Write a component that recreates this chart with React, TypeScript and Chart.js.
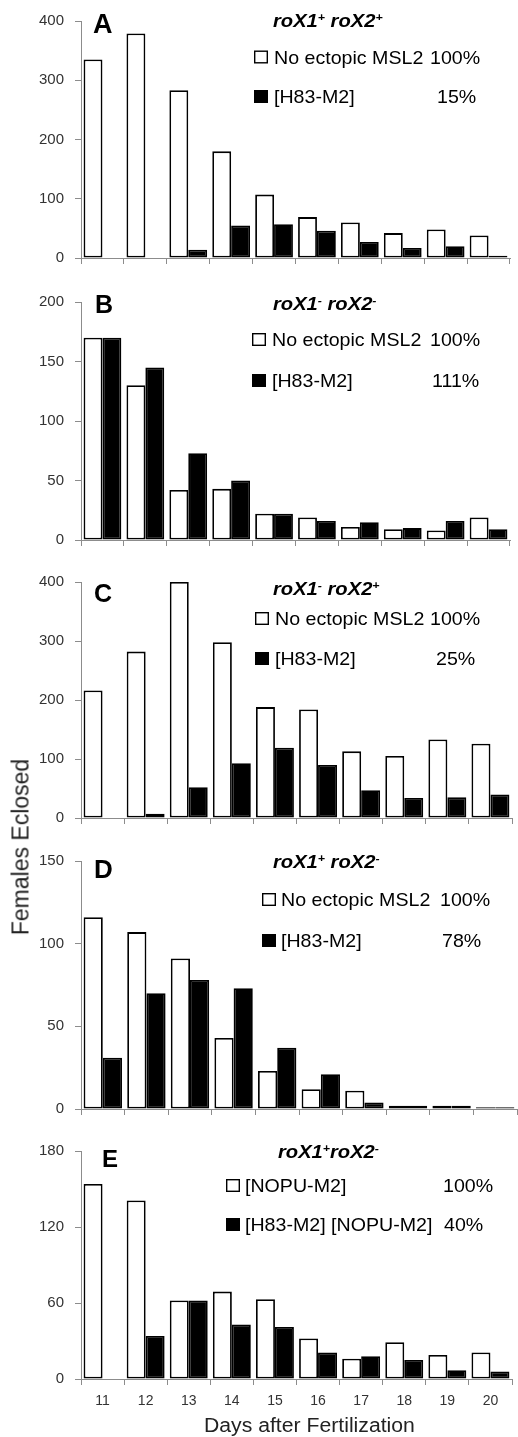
import React, { useEffect, useRef } from 'react';
import { Chart, registerables } from 'chart.js';

Chart.register(...registerables);

// ---------- data ----------
const DAYS = ['11', '12', '13', '14', '15', '16', '17', '18', '19', '20'];

const A_CONTROL = [335, 379, 283, 180, 107, 69, 60, 42, 48, 38];
const A_H83 = [0, 0, 14, 55, 57, 46, 27, 17, 20, 4];
const B_CONTROL = [170, 130, 42, 43, 22, 19, 11, 9, 8, 19];
const B_H83 = [170, 145, 73, 50, 22, 16, 15, 10, 16, 9];
const C_CONTROL = [216, 282, 400, 298, 188, 184, 113, 105, 133, 126];
const C_H83 = [0, 7, 52, 93, 119, 90, 47, 34, 35, 40];
const D_CONTROL = [116, 107, 91, 43, 23, 12, 11, 2, 2, 1];
const D_H83 = [31, 70, 78, 73, 37, 21, 4, 2, 2, 1];
const E_NOPU = [154, 141, 62, 69, 63, 32, 16, 29, 19, 21];
const E_H83_NOPU = [0, 34, 62, 43, 41, 21, 18, 15, 7, 6];

const SERIES = [
  [A_CONTROL, A_H83],
  [B_CONTROL, B_H83],
  [C_CONTROL, C_H83],
  [D_CONTROL, D_H83],
  [E_NOPU, E_H83_NOPU],
];

const Y_MAX = [400, 200, 400, 150, 180];
const Y_STEP = [100, 50, 100, 50, 60];
const LETTERS = ['A', 'B', 'C', 'D', 'E'];
const GENOTYPES: [string, boolean][][] = [
  [['roX1', false], ['+', true], [' roX2', false], ['+', true]],
  [['roX1', false], ['-', true], [' roX2', false], ['-', true]],
  [['roX1', false], ['-', true], [' roX2', false], ['+', true]],
  [['roX1', false], ['+', true], [' roX2', false], ['-', true]],
  [['roX1', false], ['+', true], ['roX2', false], ['-', true]],
];
const LEGEND_LABELS = [
  ['No ectopic MSL2', '[H83-M2]'],
  ['No ectopic MSL2', '[H83-M2]'],
  ['No ectopic MSL2', '[H83-M2]'],
  ['No ectopic MSL2', '[H83-M2]'],
  ['[NOPU-M2]', '[H83-M2] [NOPU-M2]'],
];
const PERCENTS = [
  ['100%', '15%'],
  ['100%', '111%'],
  ['100%', '25%'],
  ['100%', '78%'],
  ['100%', '40%'],
];
const X_TITLE = 'Days after Fertilization';
const Y_TITLE = 'Females Eclosed';

// ---------- layout / style ----------
const FONT = '"Liberation Sans", Arial, Helvetica, sans-serif';
const AXIS = '#8c8c8c';
const TICK_TEXT = '#333';

const LAYOUT = [
  { top: 0, h: 278, plotTop: 21, plotBottom: 265, right: 510,
    letter: { x: 93, y: 33, size: 27 }, title: { x: 273, y: 27 },
    legend: { box: 254, text: 274, y1: 63.5, y2: 103, p1: 430, p2: 437 } },
  { top: 278, h: 282, plotTop: 302, plotBottom: 550, right: 510,
    letter: { x: 95, y: 313, size: 25 }, title: { x: 273, y: 310 },
    legend: { box: 252, text: 272, y1: 346, y2: 387, p1: 430, p2: 432 } },
  { top: 560, h: 278, plotTop: 582, plotBottom: 826, right: 512,
    letter: { x: 94, y: 602, size: 25 }, title: { x: 273, y: 595 },
    legend: { box: 255, text: 275, y1: 625, y2: 665, p1: 430, p2: 436 } },
  { top: 838, h: 291, plotTop: 861, plotBottom: 1112, right: 517,
    letter: { x: 94, y: 878, size: 26 }, title: { x: 273, y: 868 },
    legend: { box: 262, text: 281, y1: 906, y2: 947, p1: 440, p2: 442 } },
  { top: 1129, h: 308, plotTop: 1151, plotBottom: 1379, right: 512,
    letter: { x: 102, y: 1167, size: 24 }, title: { x: 278, y: 1158 },
    legend: { box: 226, text: 245, y1: 1192, y2: 1231, p1: 443, p2: 444 } },
];

function drawParts(ctx: CanvasRenderingContext2D, parts: [string, boolean][], x: number, y: number,
  size: number, style: string, sx: number, color: string) {
  ctx.save();
  ctx.translate(x, y);
  ctx.scale(sx, 1);
  ctx.fillStyle = color;
  ctx.textAlign = 'left';
  ctx.textBaseline = 'alphabetic';
  let cx = 0;
  for (const [t, sup] of parts) {
    const fs = sup ? Math.round(size * 0.62) : size;
    ctx.font = `${style} ${fs}px ${FONT}`;
    ctx.fillText(t, cx, sup ? -size * 0.36 : 0);
    cx += ctx.measureText(t).width;
  }
  ctx.restore();
}

function annotationPlugin(i: number) {
  return {
    id: 'panelAnnotations' + i,
    afterDraw(chart: any) {
      const ctx: CanvasRenderingContext2D = chart.ctx;
      const L = LAYOUT[i];
      const o = L.top;
      // panel letter
      drawParts(ctx, [[LETTERS[i], false]], L.letter.x, L.letter.y - o, L.letter.size, 'bold', 1, '#000');
      // genotype title
      drawParts(ctx, GENOTYPES[i], L.title.x, L.title.y - o, 18, 'italic bold', 1.12, '#000');
      // legend
      const lg = L.legend;
      const rows = [lg.y1, lg.y2];
      rows.forEach((yy, r) => {
        const y = yy - o;
        ctx.save();
        ctx.fillStyle = r === 0 ? '#fff' : '#000';
        ctx.fillRect(lg.box, y - 13, 14, 13);
        ctx.strokeStyle = '#000';
        ctx.lineWidth = 1.4;
        ctx.strokeRect(lg.box + 0.7, y - 12.3, 12.6, 11.6);
        ctx.restore();
        drawParts(ctx, [[LEGEND_LABELS[i][r], false]], lg.text, y, 18.5, 'normal', 1.06, '#000');
        drawParts(ctx, [[PERCENTS[i][r], false]], r === 0 ? lg.p1 : lg.p2, y, 18.5, 'normal', 1.06, '#000');
      });
      if (i === 4) {
        drawParts(ctx, [[X_TITLE, false]], 204, 1432 - o, 20, 'normal', 1.06, '#222');
      }
    },
  };
}

function makeConfig(i: number): any {
  const L = LAYOUT[i];
  const isLast = i === 4;
  return {
    type: 'bar',
    data: {
      labels: DAYS,
      datasets: [
        { label: LEGEND_LABELS[i][0], data: SERIES[i][0], backgroundColor: '#ffffff', borderColor: '#000000',
          borderWidth: 1.8, borderSkipped: false, categoryPercentage: 0.88, barPercentage: 1 },
        { label: LEGEND_LABELS[i][1], data: SERIES[i][1], backgroundColor: '#000000', borderColor: '#000000',
          borderWidth: 1.8, borderSkipped: false, categoryPercentage: 0.88, barPercentage: 1 },
      ],
    },
    options: {
      responsive: false,
      animation: false,
      devicePixelRatio: 1,
      events: [],
      layout: { padding: { top: L.plotTop - L.top, right: 518 - L.right, left: 0, bottom: 0 } },
      plugins: { legend: { display: false }, tooltip: { enabled: false }, title: { display: false } },
      scales: {
        x: {
          offset: true,
          grid: { offset: true, drawOnChartArea: false, drawTicks: true, tickLength: 6, color: AXIS, lineWidth: 1 },
          border: { color: AXIS, width: 1 },
          ticks: { display: isLast, color: TICK_TEXT, font: { size: 14, family: FONT }, padding: 8,
            maxRotation: 0, autoSkip: false },
          afterFit: (s: any) => { s.height = L.top + L.h - L.plotBottom; },
        },
        y: {
          min: 0,
          max: Y_MAX[i],
          ticks: { stepSize: Y_STEP[i], color: TICK_TEXT, font: { size: 15, family: FONT }, padding: 11 },
          grid: { drawOnChartArea: false, drawTicks: true, tickLength: 6, color: AXIS, lineWidth: 1 },
          border: { color: AXIS, width: 1 },
          afterFit: (s: any) => { s.width = 81; },
        },
      },
    },
    plugins: [annotationPlugin(i)],
  };
}

function Panel({ i }: { i: number }) {
  const ref = useRef<HTMLCanvasElement | null>(null);
  useEffect(() => {
    if (!ref.current) return;
    const chart = new Chart(ref.current, makeConfig(i));
    return () => chart.destroy();
  }, [i]);
  const L = LAYOUT[i];
  return (
    <canvas
      ref={ref}
      width={518}
      height={L.h}
      style={{ position: 'absolute', left: 0, top: L.top, width: 518, height: L.h, display: 'block' }}
    />
  );
}

export default function App() {
  return (
    <div style={{ position: 'absolute', left: 0, top: 0, width: 518, height: 1437, background: '#fff', overflow: 'hidden' }}>
      {LAYOUT.map((_, i) => <Panel key={i} i={i} />)}
      <div
        style={{
          position: 'absolute', left: 21, top: 847,
          transform: 'translate(-50%, -50%) rotate(-90deg)',
          font: `23px ${FONT}`, color: '#222', whiteSpace: 'nowrap', lineHeight: 1,
        }}
      >
        {Y_TITLE}
      </div>
    </div>
  );
}
